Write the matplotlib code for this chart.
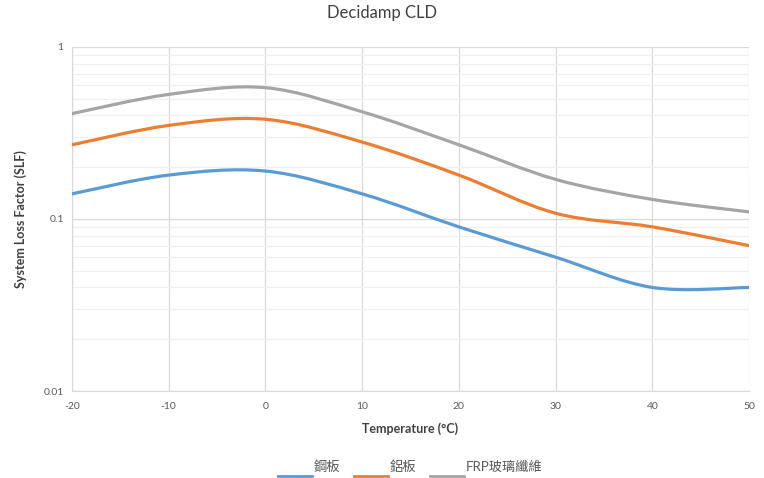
import matplotlib
matplotlib.use("Agg")
import matplotlib.pyplot as plt
import numpy as np
from matplotlib.path import Path
from matplotlib.patches import PathPatch
from matplotlib.lines import Line2D
from matplotlib.legend_handler import HandlerLine2D

plt.rcParams['font.family'] = ['Lato', 'Noto Sans CJK TC', 'DejaVu Sans']

# data
temperature = [-20, -10, 0, 10, 20, 30, 40, 50]
slf_steel = [0.14, 0.18, 0.19, 0.14, 0.09, 0.06, 0.04, 0.04]
slf_alu = [0.27, 0.35, 0.38, 0.28, 0.18, 0.108, 0.09, 0.07]
slf_frp = [0.41, 0.53, 0.58, 0.42, 0.27, 0.17, 0.13, 0.11]
labels = ['鋼板', '鋁板', 'FRP玻璃纖維']
colors = ['#5b9bd5', '#ed7d31', '#a5a5a5']


def smooth_path(x, y):
    # Excel style smoothed line: cubic Bezier through the points, in (x, log y)
    x = np.asarray(x, float)
    ly = np.log10(np.asarray(y, float))
    n = len(x)
    verts = [(x[0], 10 ** ly[0])]
    codes = [Path.MOVETO]
    for i in range(n - 1):
        i0 = max(i - 1, 0)
        i3 = min(i + 2, n - 1)
        c1 = (x[i] + (x[i + 1] - x[i0]) / 6, ly[i] + (ly[i + 1] - ly[i0]) / 6)
        c2 = (x[i + 1] - (x[i3] - x[i]) / 6, ly[i + 1] - (ly[i3] - ly[i]) / 6)
        verts += [(c1[0], 10 ** c1[1]), (c2[0], 10 ** c2[1]), (x[i + 1], 10 ** ly[i + 1])]
        codes += [Path.CURVE4] * 3
    return Path(verts, codes)


class LowLine(HandlerLine2D):
    # legend line sits below the text, like an underline
    def create_artists(self, legend, orig_handle, xdescent, ydescent,
                       width, height, fontsize, trans):
        arts = super().create_artists(legend, orig_handle, xdescent, ydescent,
                                      width, height, fontsize, trans)
        for a in arts:
            a.set_ydata([-0.42 * fontsize] * len(a.get_xdata()))
        return arts


fig = plt.figure(figsize=(7.64, 4.78), dpi=100)
ax = fig.add_axes([0.0942, 0.182, 0.8862, 0.7197])
ax.set_yscale('log')
ax.set_xlim(-20, 50)
ax.set_ylim(0.01, 1)

for series, c in zip([slf_steel, slf_alu, slf_frp], colors):
    ax.add_patch(PathPatch(smooth_path(temperature, series), fill=False,
                           edgecolor=c, lw=2.3, capstyle='round', zorder=3))

ax.set_xticks(temperature)
ax.set_xticklabels([str(t) for t in temperature])
ax.set_yticks([0.01, 0.1, 1])
ax.set_yticklabels(['0.01', '0.1', '1'])
ax.yaxis.set_minor_formatter(matplotlib.ticker.NullFormatter())
ax.tick_params(axis='both', which='both', length=0, labelsize=7.5, colors='#595959')
ax.tick_params(axis='x', pad=8)
ax.tick_params(axis='y', pad=6)
ax.grid(True, which='major', color='#d9d9d9', lw=0.9)
ax.grid(True, which='minor', axis='y', color='#f0f0f0', lw=0.9)
ax.set_axisbelow(True)
for s in ['top', 'right']:
    ax.spines[s].set_visible(False)
for s in ['left', 'bottom']:
    ax.spines[s].set_color('#d9d9d9')

ax.set_xlabel('Temperature (°C)', fontsize=9, fontweight='bold', color='#404040', labelpad=8)
ax.set_ylabel('System Loss Factor (SLF)', fontsize=9, fontweight='bold', color='#404040', labelpad=12)
fig.suptitle('Decidamp CLD', fontsize=12, color='#404040', y=0.99)

handles = [Line2D([], [], color=c, lw=2.0) for c in colors]
leg = fig.legend(handles, labels, loc='lower center', bbox_to_anchor=(0.537, -0.014),
                 ncol=3, frameon=False, fontsize=9.5, handlelength=2.6,
                 handletextpad=0.15, columnspacing=1.0,
                 handler_map={Line2D: LowLine()})
for t in leg.get_texts():
    t.set_color('#595959')

fig.savefig('out.png', dpi=100)
